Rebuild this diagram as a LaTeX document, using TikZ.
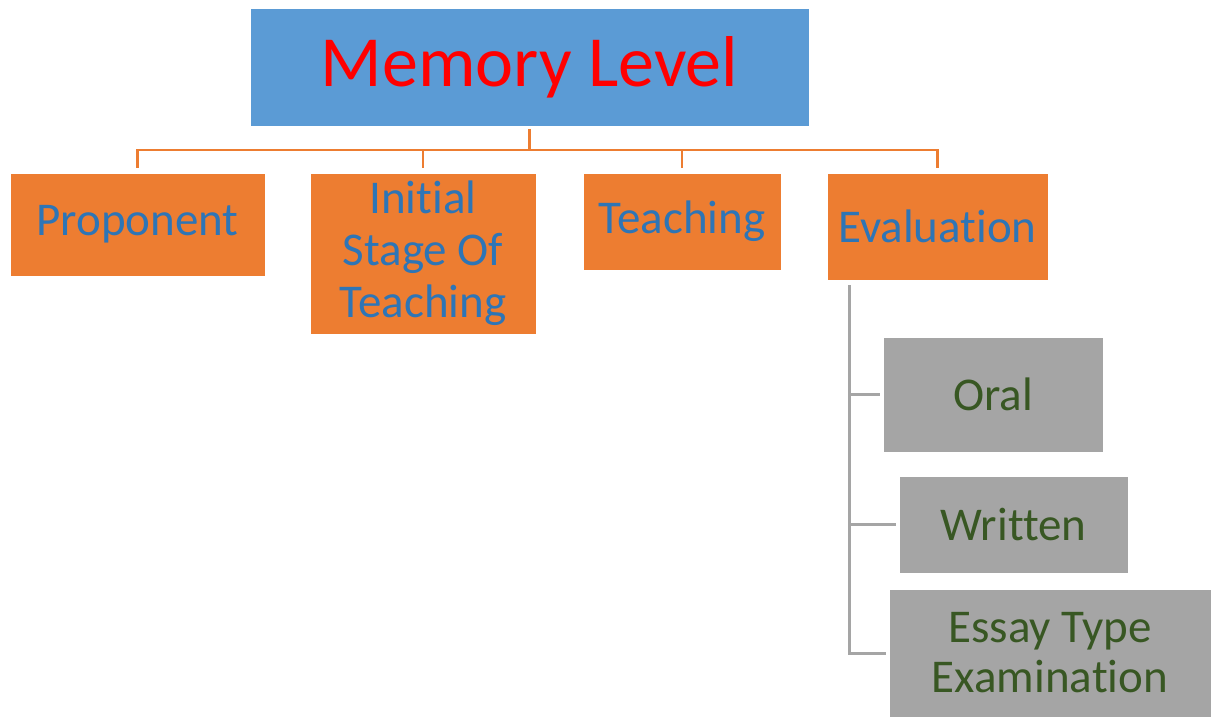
\documentclass[tikz,border=0pt]{standalone}
\usepackage{fontspec}
\setmainfont[RawFeature=-liga]{Carlito}
\definecolor{boxblue}{HTML}{5B9BD5}
\definecolor{boxorange}{HTML}{ED7D31}
\definecolor{boxgray}{HTML}{A5A5A5}
\definecolor{txtblue}{HTML}{2E75B6}
\definecolor{txtgreen}{HTML}{385723}
\begin{document}
\begin{tikzpicture}[x=1pt,y=-1pt,
    topbox/.style={fill=boxblue,draw=white,text=red,font=\fontsize{72}{80}\selectfont},
    orangebox/.style={fill=boxorange,draw=white,text=txtblue,align=center,font=\fontsize{47}{52}\selectfont},
    graybox/.style={fill=boxgray,draw=white,text=txtgreen,align=center,font=\fontsize{47}{50}\selectfont},
    orangeline/.style={draw=boxorange,line width=2.5pt},
    grayline/.style={draw=boxgray,line width=3pt}]
        \useasboundingbox (0,0) rectangle (1211,717);
        \node[topbox,minimum width=559pt,minimum height=118pt] (mem) at (529.5,67) {Memory Level};
        \node[orangebox,minimum width=255pt,minimum height=103pt] (prop) at (137.5,224.5) {Proponent};
        \node[orangebox,minimum width=226pt,minimum height=161pt] (init) at (423,253.5) {Initial\\Stage Of\\Teaching};
        \node[orangebox,minimum width=198pt,minimum height=97pt] (teach) at (682,221.5) {Teaching};
        \node[orangebox,minimum width=221pt,minimum height=107pt] (eval) at (937.5,226.5) {Evaluation};
        \node[graybox,minimum width=220pt,minimum height=115pt] (oral) at (993,394.5) {Oral};
        \node[graybox,minimum width=229pt,minimum height=97pt] (writ) at (1013.5,524.5) {Written};
        \node[graybox,minimum width=322pt,minimum height=128pt] (essay) at (1050,653) {Essay Type\\Examination};
        \foreach \child in {prop,init,teach,eval}
            \draw[orangeline,shorten <=3pt,shorten >=5pt] (mem.south) -- ++(0,24) -| (\child.north);
        \coordinate (ebar) at (849,285);
        \foreach \child in {oral,writ,essay}
            \draw[grayline,shorten >=3pt] (ebar) |- (\child.west);
\end{tikzpicture}
\end{document}
